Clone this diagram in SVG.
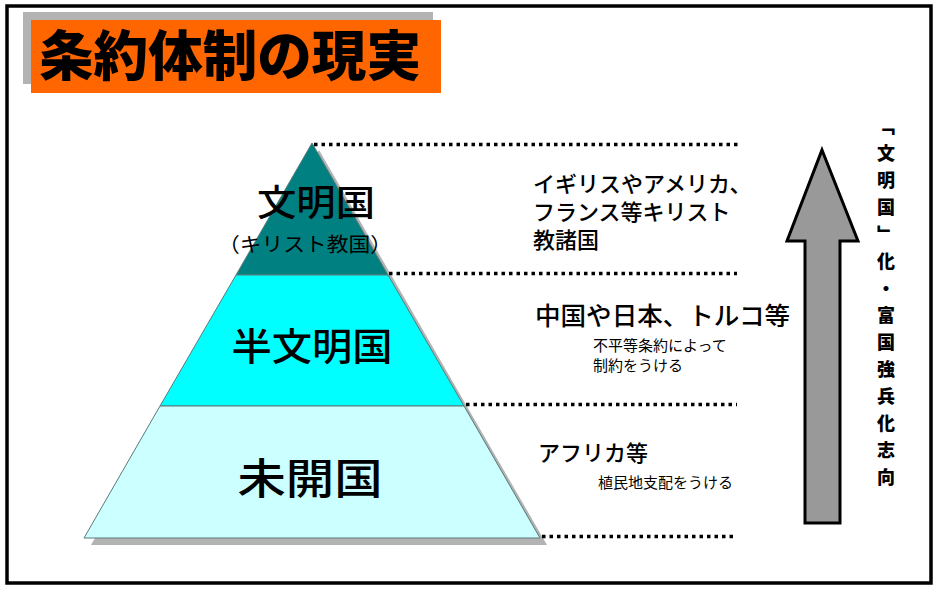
<svg xmlns="http://www.w3.org/2000/svg" width="938" height="592" viewBox="0 0 938 592">
<style>
.jp{font-family:"Noto Sans CJK JP","Noto Sans CJK SC",sans-serif;fill:#000}
.md{font-weight:500}
.tier{stroke:#5a7a7a;stroke-width:1}
.dot{stroke:#000;stroke-width:3.5;stroke-dasharray:3.5 4;fill:none}
.shadow{fill:#b3b3b3}
</style>
<rect x="7" y="6" width="924" height="577" fill="#fff" stroke="#000" stroke-width="3.5"/>
<g id="title">
<rect class="shadow" x="23" y="12" width="410" height="72" fill="#c0c0c0"/>
<rect x="31" y="20" width="410" height="73" fill="#ff6600"/>
<text class="jp" x="39" y="76" font-size="54" font-weight="900" textLength="382" lengthAdjust="spacingAndGlyphs">条約体制の現実</text>
</g>
<polygon class="shadow" points="319,150 547,545 91,545"/>
<g id="tier-top">
<polygon class="tier" points="312,143 388,275 236,275" fill="#008080"/>
<text class="jp md" x="316" y="216" font-size="36" text-anchor="middle" textLength="118" lengthAdjust="spacingAndGlyphs">文明国</text>
<text class="jp" x="305" y="252" font-size="20" text-anchor="middle" textLength="174" lengthAdjust="spacingAndGlyphs">（キリスト教国）</text>
</g>
<g id="tier-mid">
<polygon class="tier" points="236,275 388,275 464,406 160,406" fill="#00ffff"/>
<text class="jp md" x="312" y="360" font-size="38" text-anchor="middle" textLength="161" lengthAdjust="spacingAndGlyphs">半文明国</text>
</g>
<g id="tier-bottom">
<polygon class="tier" points="160,406 464,406 540,538 84,538" fill="#ccffff"/>
<text class="jp md" x="310" y="494" font-size="42" text-anchor="middle" textLength="145" lengthAdjust="spacingAndGlyphs">未開国</text>
</g>
<g id="connectors">
<line class="dot" x1="314" y1="144.5" x2="740" y2="144.5"/>
<line class="dot" x1="389" y1="273.5" x2="737" y2="273.5"/>
<line class="dot" x1="466" y1="404.5" x2="737" y2="404.5"/>
<line class="dot" x1="542" y1="536.5" x2="737" y2="536.5"/>
</g>
<g id="desc-top">
<text class="jp md" font-size="22"><tspan x="533" y="192">イギリスやアメリカ、</tspan><tspan x="533" y="220">フランス等キリスト</tspan><tspan x="533" y="248">教諸国</tspan></text>
</g>
<g id="desc-mid">
<text class="jp md" x="535" y="325" font-size="25" textLength="255" lengthAdjust="spacingAndGlyphs">中国や日本、トルコ等</text>
<text class="jp" font-size="15"><tspan x="593" y="351">不平等条約によって</tspan><tspan x="593" y="371">制約をうける</tspan></text>
</g>
<g id="desc-bottom">
<text class="jp md" x="538" y="461" font-size="22">アフリカ等</text>
<text class="jp" x="598" y="488" font-size="15">植民地支配をうける</text>
</g>
<g id="arrow">
<path d="M822,150 L858,241 L840,241 L840,523 L805,523 L805,241 L787,241 Z" fill="#999999" stroke="#000" stroke-width="3" stroke-linejoin="miter"/>
</g>
<g id="vertical-label">
<text class="jp" x="886" y="117" font-size="18" font-weight="900" letter-spacing="9" style="writing-mode:vertical-rl">「文明国」化・富国強兵化志向</text>
</g>
</svg>
